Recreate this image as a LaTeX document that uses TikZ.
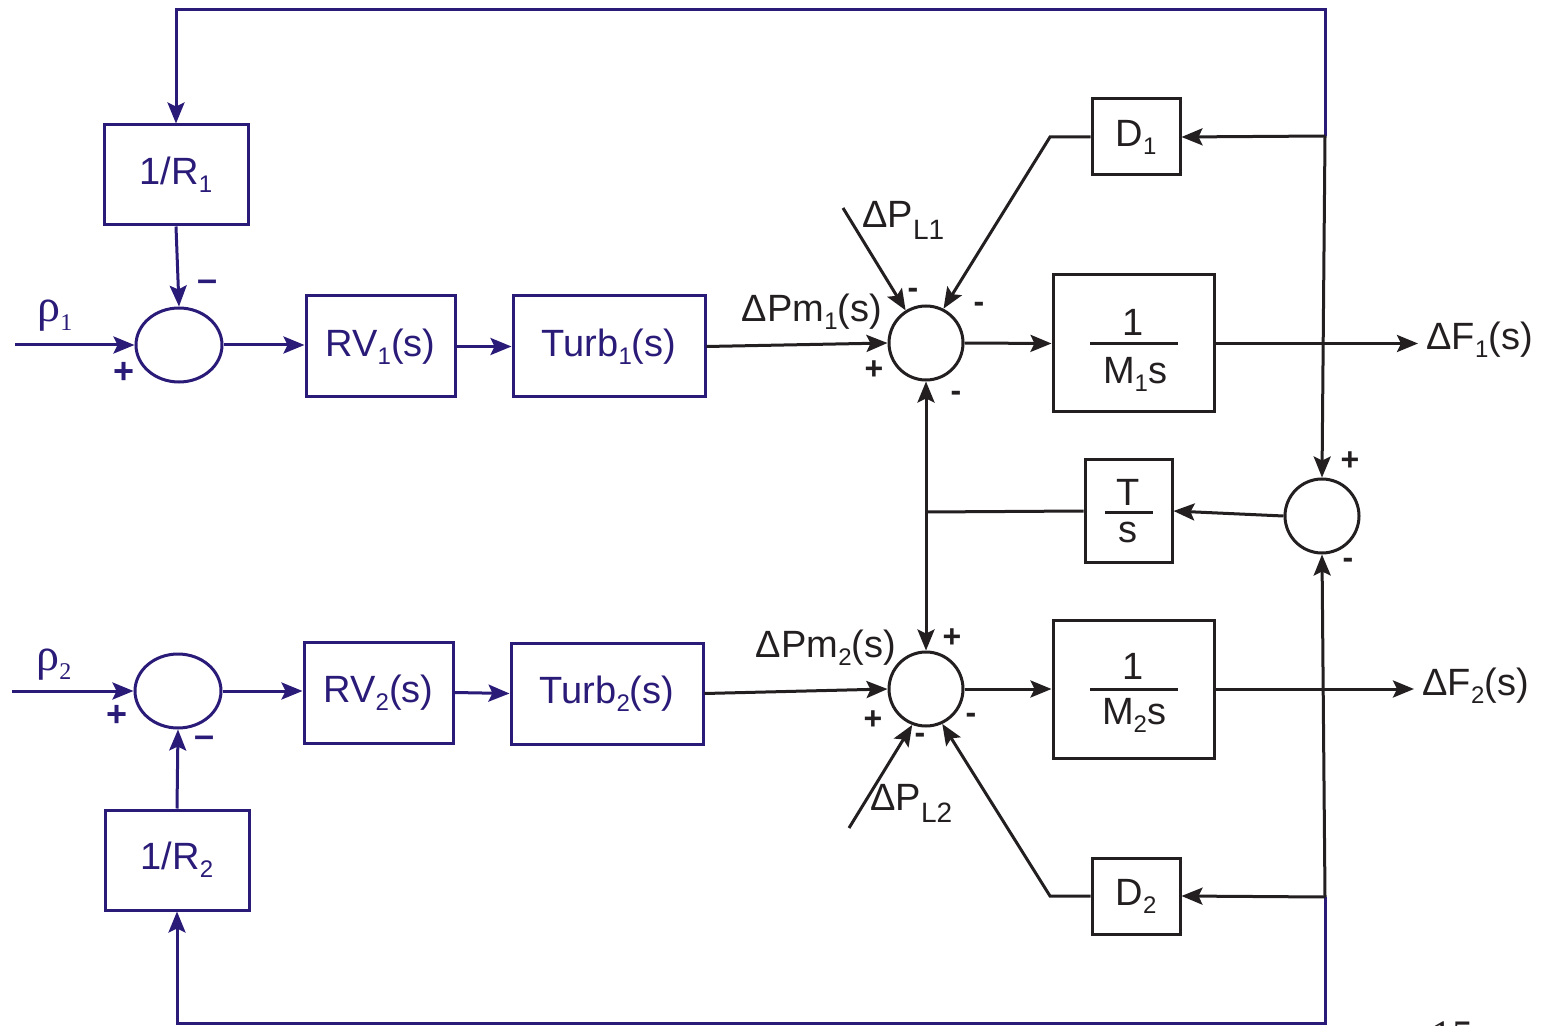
\documentclass[tikz,border=0pt]{standalone}
\usepackage{fontspec}
\setmainfont{Liberation Sans}
\newfontfamily\serifrho{Liberation Serif}
\usetikzlibrary{arrows.meta,shapes.geometric}
\definecolor{nv}{RGB}{43,27,120}
\definecolor{bk}{RGB}{35,31,32}
\newcommand{\lo}[1]{\raisebox{-0.4ex}{\fontsize{12}{12}\selectfont #1}}
\newcommand{\lob}[1]{\raisebox{-0.6ex}{\fontsize{14}{14}\selectfont #1}}
\begin{document}
\begin{tikzpicture}[x=0.5pt,y=-0.5pt,
  every node/.style={font=\fontsize{19}{22}\selectfont, text=bk},
  ln/.style={line width=1.5pt, draw=bk},
  bl/.style={line width=1.5pt, draw=nv},
  arr/.style={-{Stealth[length=10.5pt,width=8.5pt,inset=2pt]}},
  blkbox/.style={draw=bk, line width=1.5pt, rectangle, inner sep=0pt},
  blubox/.style={draw=nv, line width=1.5pt, rectangle, inner sep=0pt, text=nv},
  bsum/.style={ellipse, draw=nv, line width=1.5pt, minimum width=43pt, minimum height=37pt, inner sep=0pt},
  ksum/.style={circle, draw=bk, line width=1.5pt, minimum size=37pt, inner sep=0pt},
  sgn/.style={font=\fontsize{16}{16}\selectfont\bfseries},
  bsgn/.style={font=\fontsize{18}{18}\selectfont\bfseries, text=nv},
  rho/.style={font=\fontsize{23}{23}\selectfont\serifrho, text=nv},
]
\path[use as bounding box] (0,0) rectangle (1542,1026);

% blocks
\node[blubox, minimum width=72pt, minimum height=50pt] (r1) at (176,175) {1/R\lo{1}};
\node[blubox, minimum width=72pt, minimum height=50pt] (r2) at (177,860) {1/R\lo{2}};
\node[bsum] (s1) at (179,345) {};
\node[bsum] (s2) at (178,691) {};
\node[blubox, minimum width=74.5pt, minimum height=50.5pt] (rv1) at (380.5,346.5) {RV\lo{1}(s)};
\node[blubox, minimum width=74.5pt, minimum height=50.5pt] (rv2) at (378.5,692.5) {RV\lo{2}(s)};
\node[blubox, minimum width=96pt, minimum height=50.5pt] (t1) at (609,346.5) {Turb\lo{1}(s)};
\node[blubox, minimum width=96pt, minimum height=50.5pt] (t2) at (607,693.5) {Turb\lo{2}(s)};
\node[ksum] (s3) at (926,343) {};
\node[ksum] (s5) at (926,689) {};
\node[ksum] (s4) at (1322,516) {};
\node[blkbox, minimum width=44pt, minimum height=38pt] (d1) at (1136,137) {D\lo{1}};
\node[blkbox, minimum width=44pt, minimum height=38pt] (d2) at (1136,896) {D\lo{2}};
\node[blkbox, minimum width=80.5pt, minimum height=68.5pt] (m1) at (1133.5,343.5) {};
\node[blkbox, minimum width=80.5pt, minimum height=69pt] (m2) at (1133.5,689) {};
\node[blkbox, minimum width=43.5pt, minimum height=51pt] (ts) at (1128.5,511) {};

% fraction contents
\node (m1n) at (1133,322) {1};
\node (m1d) at (1135,374) {M\lo{1}s};
\draw[ln] (1090,344) -- (1178,344);
\node (m2n) at (1133,666) {1};
\node (m2d) at (1134,715) {M\lo{2}s};
\draw[ln] (1090,689) -- (1178,689);
\node[inner sep=0pt] (tsn) at (1128,492) {T};
\node[inner sep=0pt] (tsd) at (1128,532) {s};
\draw[ln] (1105,512) -- (1153,512);

% labels
\node[rho] (rho1) at (55,316) {ρ\lo{1}};
\node[rho] (rho2) at (54,665) {ρ\lo{2}};
\node (pm1) at (812,312) {ΔPm\lo{1}(s)};
\node (pm2) at (826,648) {ΔPm\lo{2}(s)};
\node[anchor=west, inner sep=0pt] (pl1) at (862,220) {ΔP\lob{L1}};
\node[anchor=west, inner sep=0pt] (pl2) at (870,803) {ΔP\lob{L2}};
\node[anchor=west, inner sep=0pt] (f1) at (1426,340) {ΔF\lo{1}(s)};
\node[anchor=west, inner sep=0pt] (f2) at (1422,686) {ΔF\lo{2}(s)};
\node[font=\fontsize{21}{21}\selectfont\serifrho] (pg) at (1452,1036) {15};

% signs
\node[bsgn] at (208,286) {–};
\node[bsgn] at (124,373) {+};
\node[bsgn] at (117,716) {+};
\node[bsgn] at (205,742) {–};
\node[sgn] at (913,293) {-};
\node[sgn] at (979,307) {-};
\node[sgn] at (874,370) {+};
\node[sgn] at (956,396) {-};
\node[sgn] at (952,638) {+};
\node[sgn] at (873,720) {+};
\node[sgn] at (971,718) {-};
\node[sgn] at (920,738) {-};
\node[sgn] at (1350,461) {+};
\node[sgn] at (1348,563) {-};

% coordinates
\coordinate (j1) at (1325,136);
\coordinate (j2) at (1325,897);
\coordinate (tp) at (1325,10);
\coordinate (bt) at (1325,1023);
\coordinate (in1) at (15,345);
\coordinate (in2) at (12,691);
\coordinate (tj) at (926,512);
\coordinate (dk1) at (1050,137);
\coordinate (dk2) at (1050,896);
\coordinate (pl1s) at (843,208);
\coordinate (pl2s) at (849,828);

% blue connectors
\draw[bl,arr] (j1) -- (tp) -| (r1.north);
\draw[bl,arr] (j2) -- (bt) -| (r2.south);
\draw[bl,arr] (r1.south) -- (s1.north);
\draw[bl,arr] (r2.north) -- (s2.south);
\draw[bl,arr] (in1) -- (s1.west);
\draw[bl,arr] (in2) -- (s2.west);
\draw[bl,arr] (s1.east) -- (s1.east -| rv1.west);
\draw[bl,arr] (s2.east) -- (s2.east -| rv2.west);
\draw[bl,arr] (rv1.east) -- (t1.west);
\draw[bl,arr] (rv2.east) -- (t2.west);

% black connectors
\draw[ln,arr] (t1.east) -- (s3.west);
\draw[ln,arr] (t2.east) -- (s5.west);
\draw[ln,arr] (s3.east) -- (m1.west);
\draw[ln,arr] (s5.east) -- (m2.west);
\draw[ln,arr] (m1.east) -- ([xshift=-4pt]f1.west |- m1.east);
\draw[ln,arr] (m2.east) -- ([xshift=-4pt]f2.west |- m2.east);
\draw[ln,arr] (j1) -- (d1.east);
\draw[ln,arr] (j2) -- (d2.east);
\draw[ln,arr] (j1) -- (s4.north);
\draw[ln,arr] (j2) -- (s4.south);
\draw[ln,arr] (s4.west) -- (ts.east);
\draw[ln] (ts.west) -- (tj);
\draw[ln,arr] (tj) -- (s3.south);
\draw[ln,arr] (tj) -- (s5.north);
\draw[ln,arr] (d1.west) -- (dk1) -- (s3.63);
\draw[ln,arr] (d2.west) -- (dk2) -- (s5.295);
\draw[ln,arr] (pl1s) -- (s3.122);
\draw[ln,arr] (pl2s) -- (s5.249);
\end{tikzpicture}
\end{document}
